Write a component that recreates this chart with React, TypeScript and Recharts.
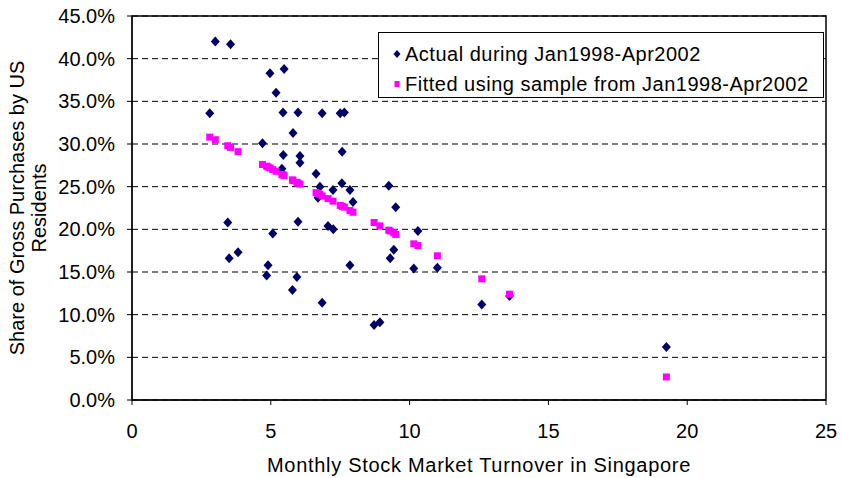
import {
  CartesianGrid,
  Legend,
  ReferenceArea,
  Scatter,
  ScatterChart,
  XAxis,
  YAxis,
} from 'recharts';

// monthly turnover (x) and share of gross purchases by US residents (%), Jan1998-Apr2002
const actualTurnover = [
  3.0, 3.55, 2.8, 4.97, 5.48, 5.19, 5.44, 5.98, 6.85, 7.5, 7.65, 5.8, 4.7, 5.45, 6.05, 6.05, 7.57,
  6.63, 5.4, 6.77, 7.24, 7.56, 7.85, 6.7, 7.96, 3.45, 3.5, 3.82, 5.07, 5.98, 7.06, 7.25, 4.9, 4.85,
  5.94, 5.78, 6.85, 7.85, 9.25, 9.5, 10.3, 9.43, 9.3, 10.15, 11.0, 12.6, 8.72, 8.93, 13.6, 19.25,
];
const actualShare = [
  42.0, 41.7, 33.6, 38.3, 38.8, 36.0, 33.7, 33.7, 33.6, 33.6, 33.7, 31.3, 30.1, 28.7, 28.6, 27.8, 29.1,
  26.5, 27.1, 25.0, 24.6, 25.4, 24.6, 23.7, 23.2, 20.8, 16.6, 17.3, 19.5, 20.9, 20.4, 20.0, 15.8, 14.6,
  14.4, 12.9, 11.4, 15.8, 25.1, 22.6, 19.8, 17.6, 16.6, 15.4, 15.5, 11.2, 8.8, 9.1, 12.2, 6.2,
];

const fittedTurnover = [
  2.8, 3.0, 3.45, 3.55, 3.82, 4.7, 4.85, 4.9, 4.97, 5.07, 5.19, 5.4, 5.44, 5.48, 5.78, 5.8, 5.94, 5.98,
  6.05, 6.63, 6.7, 6.77, 6.85, 7.06, 7.24, 7.5, 7.57, 7.65, 7.85, 7.96, 8.72, 8.93, 9.25, 9.3, 9.43,
  9.5, 10.15, 10.3, 11.0, 12.6, 13.6, 19.25,
];
const fittedShare = [
  30.8, 30.5, 29.8, 29.6, 29.1, 27.6, 27.4, 27.3, 27.2, 27.0, 26.8, 26.4, 26.4, 26.3, 25.8, 25.7, 25.5,
  25.4, 25.3, 24.3, 24.2, 24.1, 23.9, 23.6, 23.3, 22.8, 22.7, 22.6, 22.2, 22.0, 20.8, 20.4, 19.9, 19.8,
  19.6, 19.4, 18.3, 18.1, 16.9, 14.2, 12.4, 2.7,
];

const xTicks = [0, 5, 10, 15, 20, 25];
const yTicks = [0, 5, 10, 15, 20, 25, 30, 35, 40, 45];

const actualData = actualTurnover.map((x, i) => ({ x, y: actualShare[i] }));
const fittedData = fittedTurnover.map((x, i) => ({ x, y: fittedShare[i] }));

const FONT = '"Liberation Sans", Arial, sans-serif';
const BLUE = '#000066';
const PINK = '#ff00ff';

const Diamond = (props: any) => {
  const { cx, cy } = props;
  return <path d={`M${cx},${cy - 5}L${cx + 4.5},${cy}L${cx},${cy + 5}L${cx - 4.5},${cy}Z`} fill={BLUE} />;
};

const Square = (props: any) => {
  const { cx, cy } = props;
  return <rect x={cx - 3.5} y={cy - 3.5} width={7} height={7} fill={PINK} />;
};

const XTick = ({ x, y, payload }: any) => (
  <text x={x} y={y} dy={31} textAnchor="middle" fontSize={20} fontFamily={FONT} fill="#000">
    {payload.value}
  </text>
);

const YTick = ({ x, y, payload }: any) => (
  <text x={x} y={y} dy={7} textAnchor="end" fontSize={20} fontFamily={FONT} fill="#000">
    {`${payload.value.toFixed(1)}%`}
  </text>
);

const XTitle = () => (
  <text x={479} y={472} textAnchor="middle" fontSize={20} fontFamily={FONT} letterSpacing={0.7} fill="#000">
    Monthly Stock Market Turnover in Singapore
  </text>
);

const YTitle = () => (
  <g fontSize={20} fontFamily={FONT} fill="#000" textAnchor="middle">
    <text transform="translate(24,208) rotate(-90)">Share of Gross Purchases by US</text>
    <text transform="translate(46,208) rotate(-90)">Residents</text>
  </g>
);

const LegendBox = () => (
  <div
    style={{
      border: '1px solid #000',
      background: '#fff',
      boxSizing: 'border-box',
      width: '100%',
      height: '100%',
      fontFamily: FONT,
      fontSize: 20,
      letterSpacing: 0.5,
      color: '#000',
      padding: '6px 0 0 14px',
      lineHeight: '30px',
    }}
  >
    <div style={{ display: 'flex', alignItems: 'center' }}>
      <svg width={8} height={8} style={{ marginRight: 4 }}>
        <path d="M4,0L7.5,4L4,8L0.5,4Z" fill={BLUE} />
      </svg>
      Actual during Jan1998-Apr2002
    </div>
    <div style={{ display: 'flex', alignItems: 'center' }}>
      <svg width={8} height={8} style={{ marginRight: 4 }}>
        <rect x={1.5} y={1} width={5} height={6} fill={PINK} />
      </svg>
      Fitted using sample from Jan1998-Apr2002
    </div>
  </div>
);

export default function App() {
  return (
    <div style={{ position: 'absolute', left: 0, top: 0, width: 842, height: 478, background: '#fff' }}>
      <ScatterChart width={842} height={478} margin={{ top: 16, right: 16, bottom: 0, left: 0 }}>
        <CartesianGrid vertical={false} stroke="#000" strokeDasharray="6 4" />
        <XAxis
          type="number"
          dataKey="x"
          domain={[0, 25]}
          ticks={xTicks}
          height={78}
          tickSize={5}
          stroke="#000"
          tick={<XTick />}
          label={<XTitle />}
        />
        <YAxis
          type="number"
          dataKey="y"
          domain={[0, 45]}
          ticks={yTicks}
          width={132}
          tickSize={5}
          tickMargin={12}
          stroke="#000"
          tick={<YTick />}
          label={<YTitle />}
        />
        <ReferenceArea x1={0} x2={25} y1={0} y2={45} fill="none" stroke="#000" strokeWidth={1.5} ifOverflow="visible" />
        <Scatter name="Actual during Jan1998-Apr2002" data={actualData} shape={<Diamond />} isAnimationActive={false} />
        <Scatter name="Fitted using sample from Jan1998-Apr2002" data={fittedData} shape={<Square />} isAnimationActive={false} />
        <Legend
          layout="horizontal"
          verticalAlign="middle"
          align="center"
          content={<LegendBox />}
          wrapperStyle={{ left: 378, top: 32, width: 446, height: 66 }}
        />
      </ScatterChart>
    </div>
  );
}
